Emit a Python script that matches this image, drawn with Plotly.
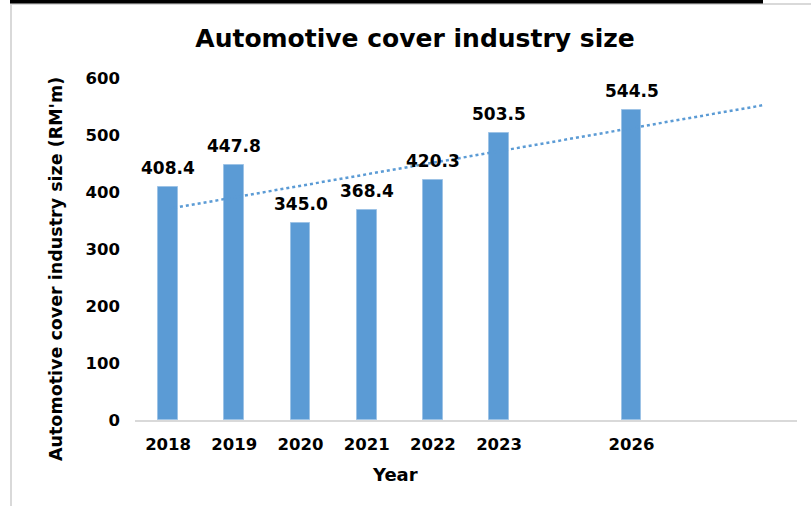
import numpy as np
import plotly.graph_objects as go

years = ["2018", "2019", "2020", "2021", "2022", "2023", "2026"]
slots = [1, 2, 3, 4, 5, 6, 8]
values = [408.4, 447.8, 345.0, 368.4, 420.3, 503.5, 544.5]
y_ticks = [0, 100, 200, 300, 400, 500, 600]

W, H = 811, 506
L, R, T, B = 135, 14, 78, 86
pw, ph = W - L - R, H - T - B

def px(x):
    return (x - L) / pw

def py(y):
    return (H - B - y) / ph

blue = "#5b9bd5"
font = "DejaVu Sans"

fig = go.Figure()
fig.add_trace(go.Bar(
    x=slots, y=values, width=0.3,
    marker=dict(color=blue, line=dict(color="#9dc3e6", width=1)),
    showlegend=False,
))

# linear trendline (least squares on the data), forecast forward to slot 10
coef = np.polyfit(slots, values, 1)
tx = np.array([1, 10])
fig.add_trace(go.Scatter(
    x=tx, y=np.polyval(coef, tx), mode="lines",
    line=dict(color=blue, width=2.5, dash="dot"), showlegend=False,
))

annotations = [
    dict(x=s, y=v, text=f"<b>{v:.1f}</b>", showarrow=False, xanchor="center",
         yanchor="bottom", yshift=7, font=dict(family=font, size=17, color="black"))
    for s, v in zip(slots, values)
]
annotations += [
    dict(text="<b>Automotive cover industry size (RM'm)</b>", xref="paper", yref="paper",
         x=px(56), y=py(269), textangle=-90, showarrow=False,
         xanchor="center", yanchor="middle",
         font=dict(family=font, size=17.5, color="black")),
    dict(text="<b>Year</b>", xref="paper", yref="paper", x=px(395), y=py(475),
         showarrow=False, xanchor="center", yanchor="middle",
         font=dict(family=font, size=18, color="black")),
]

fig.update_layout(
    width=W, height=H, margin=dict(l=L, r=R, t=T, b=B),
    paper_bgcolor="white", plot_bgcolor="white",
    title=dict(text="<b>Automotive cover industry size</b>", x=415 / W, xanchor="center",
               y=1 - 38 / H, yanchor="middle",
               font=dict(family=font, size=25, color="black")),
    xaxis=dict(range=[0.5, 10.5], tickmode="array", tickvals=slots, ticktext=years,
               showgrid=False, zeroline=False, showline=True, linecolor="#d9d9d9", linewidth=2,
               ticks="", ticklabelstandoff=8,
               tickfont=dict(family=font, size=16.5, color="black", weight="bold")),
    yaxis=dict(range=[0, 600], tickmode="array", tickvals=y_ticks, showgrid=False,
               zeroline=False, showline=False, ticks="", ticklabelstandoff=14,
               tickfont=dict(family=font, size=16.5, color="black", weight="bold")),
    bargap=0,
    annotations=annotations,
    shapes=[
        dict(type="line", xref="paper", yref="paper", x0=px(11), x1=px(11), y0=py(3), y1=py(506),
             line=dict(color="#d9d9d9", width=2)),
        dict(type="line", xref="paper", yref="paper", x0=px(10), x1=px(811), y0=py(4), y1=py(4),
             line=dict(color="#d9d9d9", width=2)),
        dict(type="rect", xref="paper", yref="paper", x0=px(10), x1=px(763), y0=py(0), y1=py(3.5),
             fillcolor="black", line=dict(width=0)),
    ],
)

fig.write_html("out.html")
